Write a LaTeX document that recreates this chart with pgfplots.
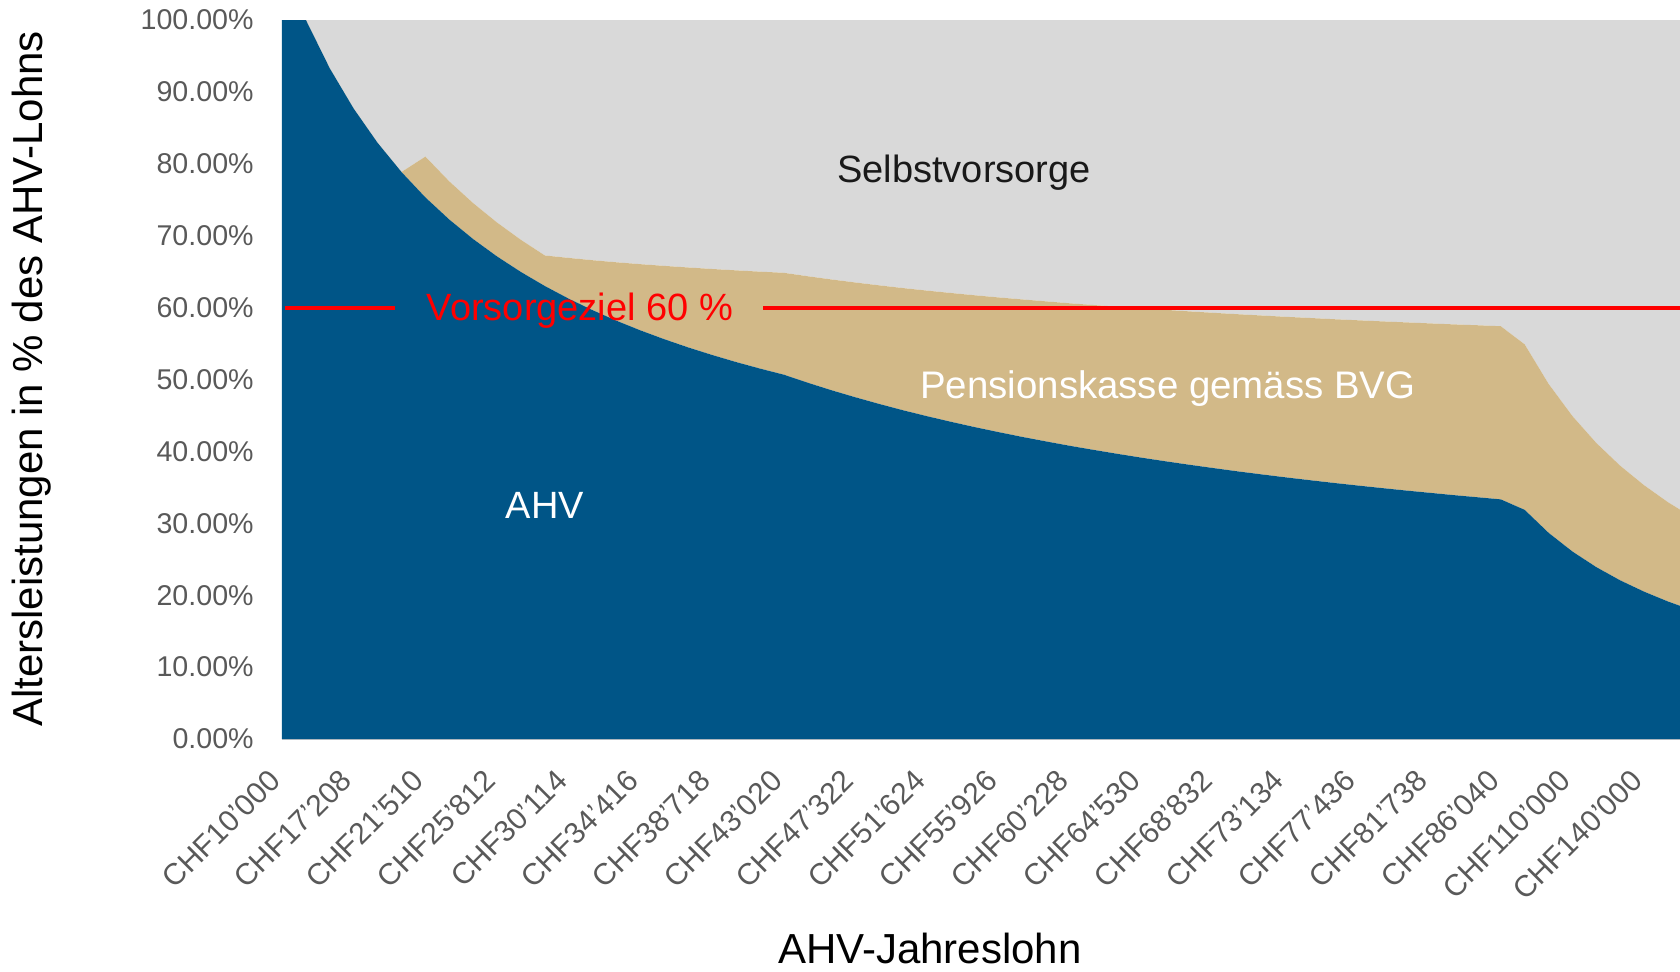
\documentclass[border=0pt]{standalone}
\usepackage{fontspec}
\setmainfont{Liberation Sans}
\usepackage{pgfplots}
\usepackage{pgfplotstable}
\pgfplotsset{compat=1.18}
\definecolor{ahvblue}{RGB}{0,85,135}
\definecolor{bvgtan}{RGB}{210,185,136}
\definecolor{selbgrey}{RGB}{217,217,217}
\definecolor{ticklab}{RGB}{89,89,89}

\pgfplotstableread{
x ahv bvg selbst
0 100.00 0.00 0.00
1 100.00 0.00 0.00
2 93.27 0.00 6.73
3 87.67 0.00 12.33
4 82.92 0.00 17.08
5 78.86 0.00 21.14
6 75.33 5.67 19.00
7 72.25 5.31 22.44
8 69.53 5.00 25.47
9 67.11 4.72 28.17
10 64.95 4.47 30.58
11 63.00 4.25 32.75
12 61.24 5.67 33.09
13 59.64 6.95 33.41
14 58.17 8.13 33.70
15 56.83 9.21 33.96
16 55.60 10.20 34.20
17 54.46 11.12 34.42
18 53.41 11.96 34.63
19 52.43 12.75 34.82
20 51.52 13.48 35.00
21 50.67 14.17 35.16
22 49.55 14.81 35.64
23 48.50 15.41 36.09
24 47.52 15.97 36.51
25 46.59 16.50 36.91
26 45.71 17.00 37.29
27 44.89 17.47 37.64
28 44.11 17.92 37.97
29 43.37 18.34 38.29
30 42.67 18.74 38.59
31 42.00 19.13 38.87
32 41.37 19.49 39.14
33 40.76 19.83 39.41
34 40.19 20.16 39.65
35 39.64 20.48 39.88
36 39.11 20.78 40.11
37 38.61 21.07 40.32
38 38.13 21.34 40.53
39 37.67 21.60 40.73
40 37.22 21.86 40.92
41 36.80 22.10 41.10
42 36.39 22.33 41.28
43 36.00 22.56 41.44
44 35.62 22.77 41.61
45 35.26 22.98 41.76
46 34.91 23.18 41.91
47 34.57 23.38 42.05
48 34.25 23.56 42.19
49 33.93 23.74 42.33
50 33.63 23.92 42.45
51 33.33 24.08 42.59
52 31.87 23.02 45.11
53 28.68 20.72 50.60
54 26.07 18.84 55.09
55 23.90 17.27 58.83
56 22.06 15.94 62.00
57 20.49 14.80 64.71
58 19.12 13.81 67.07
59 17.93 12.95 69.12
}\data

\begin{document}
\begin{tikzpicture}
\begin{axis}[
  at={(0,0)}, anchor=south west,
  scale only axis, width=699pt, height=359.5pt,
  xmin=0, xmax=58.5, ymin=0, ymax=100,
  stack plots=y,
  axis x line*=bottom, axis y line*=left,
  x axis line style={draw=gray!45, line width=0.8pt, -},
  y axis line style={draw=none, -},
  major tick length=0pt,
  xtick={0,3,...,57},
  xticklabels={CHF10'000,CHF17'208,CHF21'510,CHF25'812,CHF30'114,CHF34'416,CHF38'718,CHF43'020,CHF47'322,CHF51'624,CHF55'926,CHF60'228,CHF64'530,CHF68'832,CHF73'134,CHF77'436,CHF81'738,CHF86'040,CHF110'000,CHF140'000},
  ytick={0,10,...,100},
  yticklabels={0.00\%,10.00\%,20.00\%,30.00\%,40.00\%,50.00\%,60.00\%,70.00\%,80.00\%,90.00\%,100.00\%},
  yticklabel style={font=\fontsize{14.3}{16}\selectfont, text=ticklab, anchor=east, inner sep=0pt, xshift=-14pt},
  xticklabel style={font=\fontsize{15}{17}\selectfont, text=ticklab, rotate=45, anchor=east, inner sep=0pt, xshift=-15.2pt, yshift=-10.3pt},
  xlabel={AHV-Jahreslohn},
  xlabel style={font=\fontsize{21}{24}\selectfont, at={(axis description cs:0.4635,-0.2920)}, anchor=center},
  ylabel={Altersleistungen in \% des AHV-Lohns},
  ylabel style={font=\fontsize{21}{24}\selectfont, at={(axis description cs:-0.1788,0.5007)}, anchor=center},
]
\addplot[draw=none, fill=ahvblue] table[x=x, y=ahv] {\data} \closedcycle;
\addplot[draw=none, fill=bvgtan] table[x=x, y=bvg] {\data} \closedcycle;
\addplot[draw=none, fill=selbgrey] table[x=x, y=selbst] {\data} \closedcycle;
\end{axis}
\begin{axis}[
  at={(0,0)}, anchor=south west,
  scale only axis, width=699pt, height=359.5pt,
  xmin=0, xmax=58.5, ymin=0, ymax=100,
  hide axis,
]
\addplot[red, line width=1.9pt] coordinates {(0.13,60) (4.73,60)};
\addplot[red, line width=1.9pt] coordinates {(20.13,60) (58.6,60)};
\node[font=\fontsize{19}{22}\selectfont, text=black!90] at (axis cs:28.54,78.7) {Selbstvorsorge};
\node[font=\fontsize{19.2}{22}\selectfont, text=white] at (axis cs:37.07,48.8) {Pensionskasse gemäss BVG};
\node[font=\fontsize{19}{22}\selectfont, text=white] at (axis cs:11.0,32.5) {AHV};
\node[font=\fontsize{19}{22}\selectfont, text=red] at (axis cs:12.47,59.6) {Vorsorgeziel 60 \%};
\end{axis}
\pgfresetboundingbox
\path[use as bounding box] (-141pt,-116pt) rectangle (699pt,369.5pt);
\end{tikzpicture}
\end{document}
